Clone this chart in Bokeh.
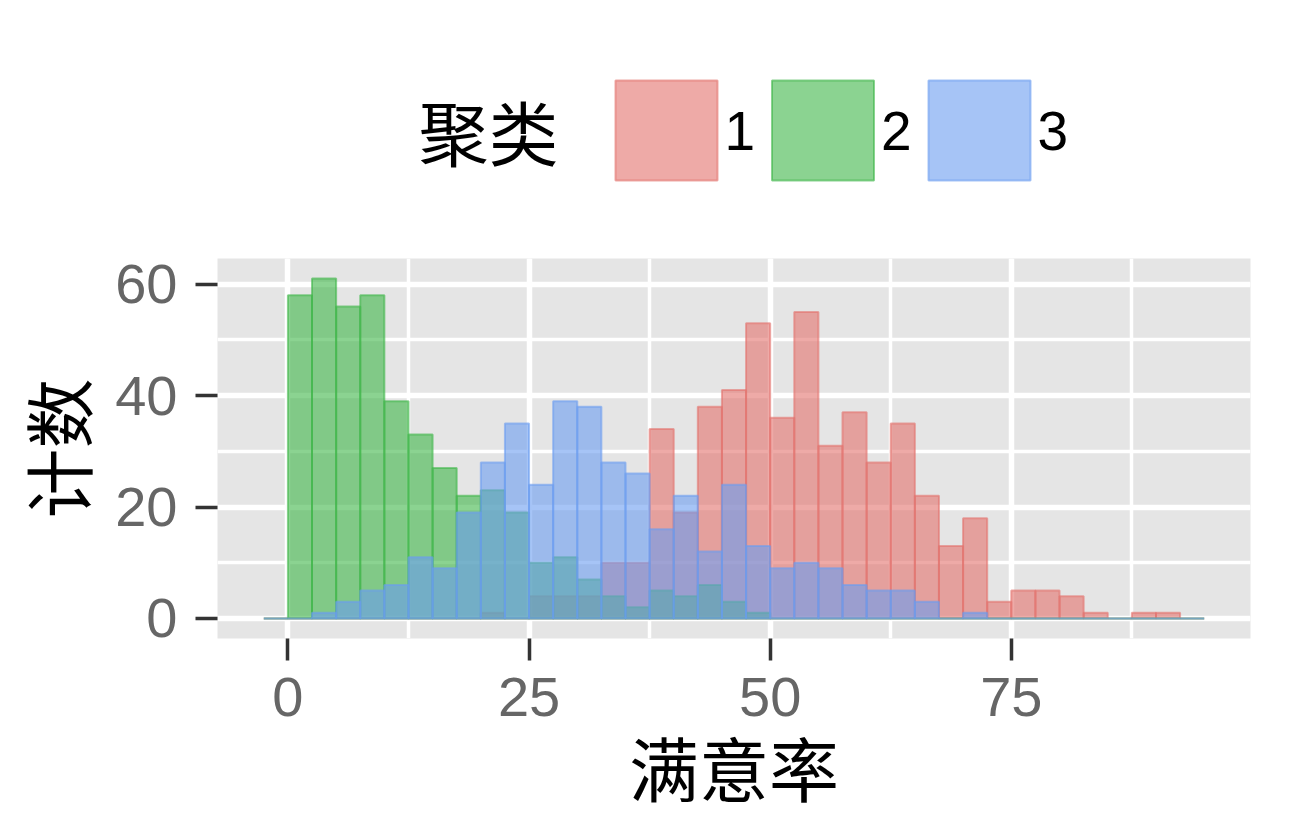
from bokeh.plotting import figure
from bokeh.layouts import column
from bokeh.models import Range1d, SingleIntervalTicker
from bokeh.core.properties import value
from bokeh.embed import file_html
from bokeh.resources import INLINE

# ---- data ----
bin_start = -2.5
bin_width = 2.5
series_names = ["1", "2", "3"]
series_colors = ["#E2726C", "#3DB548", "#6B9CF0"]
counts_1 = [0, 0, 0, 0, 0, 0, 0, 0, 0, 1, 0, 4, 4, 4, 10, 10, 34, 19, 38, 41,
            53, 36, 55, 31, 37, 28, 35, 22, 13, 18, 3, 5, 5, 4, 1, 0, 1, 1, 0]
counts_2 = [0, 58, 61, 56, 58, 39, 33, 27, 22, 23, 19, 10, 11, 7, 4, 2, 5, 4, 6, 3,
            1, 0, 0, 0, 0, 0, 0, 0, 0, 0, 0, 0, 0, 0, 0, 0, 0, 0, 0]
counts_3 = [0, 0, 1, 3, 5, 6, 11, 9, 19, 28, 35, 24, 39, 38, 28, 26, 16, 22, 12, 24,
            13, 9, 10, 9, 6, 5, 5, 3, 0, 1, 0, 0, 0, 0, 0, 0, 0, 0, 0]
x_title = "满意率"
y_title = "计数"
legend_title = "聚类"

CJK = value("Noto Sans CJK SC")
LAT = value("Liberation Sans")

W, H = 1289, 832
HDR_H = 208
FRAME_L, FRAME_R, FRAME_T, FRAME_B = 217, 1250, 258, 638

# ---- header (legend) ----
hdr = figure(width=W, height=HDR_H, x_range=Range1d(FRAME_L, FRAME_R), y_range=Range1d(0, HDR_H),
             output_backend="svg", toolbar_location=None, x_axis_location=None,
             y_axis_location=None, min_border_left=FRAME_L, min_border_right=W - FRAME_R,
             min_border_top=0, min_border_bottom=0, outline_line_color=None)
hdr.grid.visible = False
sw_x0, sw_step, sw_w = 615, 156.5, 102
sw_left = [sw_x0 + sw_step * i for i in range(len(series_names))]
sw_right = [l + sw_w for l in sw_left]
hdr.quad(left=sw_left, right=sw_right, bottom=28, top=128,
         fill_color=series_colors, fill_alpha=0.6,
         line_color=series_colors, line_alpha=0.6, line_width=2)
hdr.text(x=[r + 7 for r in sw_right], y=[78] * 3, text=series_names,
         text_font=LAT, text_font_size="55px", text_baseline="middle",
         text_align="left", text_color="black")
hdr.text(x=[418], y=[78], text=[legend_title], text_font=CJK,
         text_font_size="70px", text_baseline="middle", text_align="left",
         text_color="black")

# ---- main histogram ----
MH = H - HDR_H
p = figure(width=W, height=MH, x_range=Range1d(-7.3, 99.8), y_range=Range1d(-3.6, 64.6),
           output_backend="svg", toolbar_location=None,
           min_border_left=FRAME_L, min_border_right=W - FRAME_R,
           min_border_top=FRAME_T - HDR_H, min_border_bottom=MH - (FRAME_B - HDR_H),
           background_fill_color="#E5E5E5", outline_line_color=None, border_fill_color="white")

n = len(counts_1)
left = [bin_start + bin_width * i for i in range(n)]
right = [l + bin_width for l in left]
for counts, col in zip([counts_1, counts_2, counts_3], series_colors):
    p.quad(left=left, right=right, bottom=0, top=counts,
           fill_color=col, fill_alpha=0.6, line_color=col, line_alpha=0.6, line_width=2)

p.xaxis.ticker = SingleIntervalTicker(interval=25, num_minor_ticks=2)
p.yaxis.ticker = SingleIntervalTicker(interval=20, num_minor_ticks=2)

for g in (p.xgrid, p.ygrid):
    g.grid_line_color = "white"
    g.grid_line_width = 5.5
    g.minor_grid_line_color = "white"
    g.minor_grid_line_width = 3.5
    g.level = "image"

for ax in (p.xaxis, p.yaxis):
    ax.axis_line_color = None
    ax.minor_tick_line_color = None
    ax.major_tick_in = 0
    ax.major_tick_out = 22
    ax.major_tick_line_width = 3.5
    ax.major_tick_line_color = "#333333"
    ax.major_label_text_font = "Liberation Sans"
    ax.major_label_text_font_size = "56px"
    ax.major_label_text_color = "#666666"
    ax.axis_label_text_font = "Noto Sans CJK SC"
    ax.axis_label_text_font_size = "70px"
    ax.axis_label_text_font_style = "normal"
    ax.axis_label_text_color = "black"

p.xaxis.axis_label = x_title
p.yaxis.axis_label = y_title
p.xaxis.major_label_standoff = 17
p.yaxis.major_label_standoff = 18
p.xaxis.axis_label_standoff = -3
p.yaxis.axis_label_standoff = 5

layout = column(hdr, p, spacing=0)
open("out.html", "w").write(file_html(layout, INLINE))
